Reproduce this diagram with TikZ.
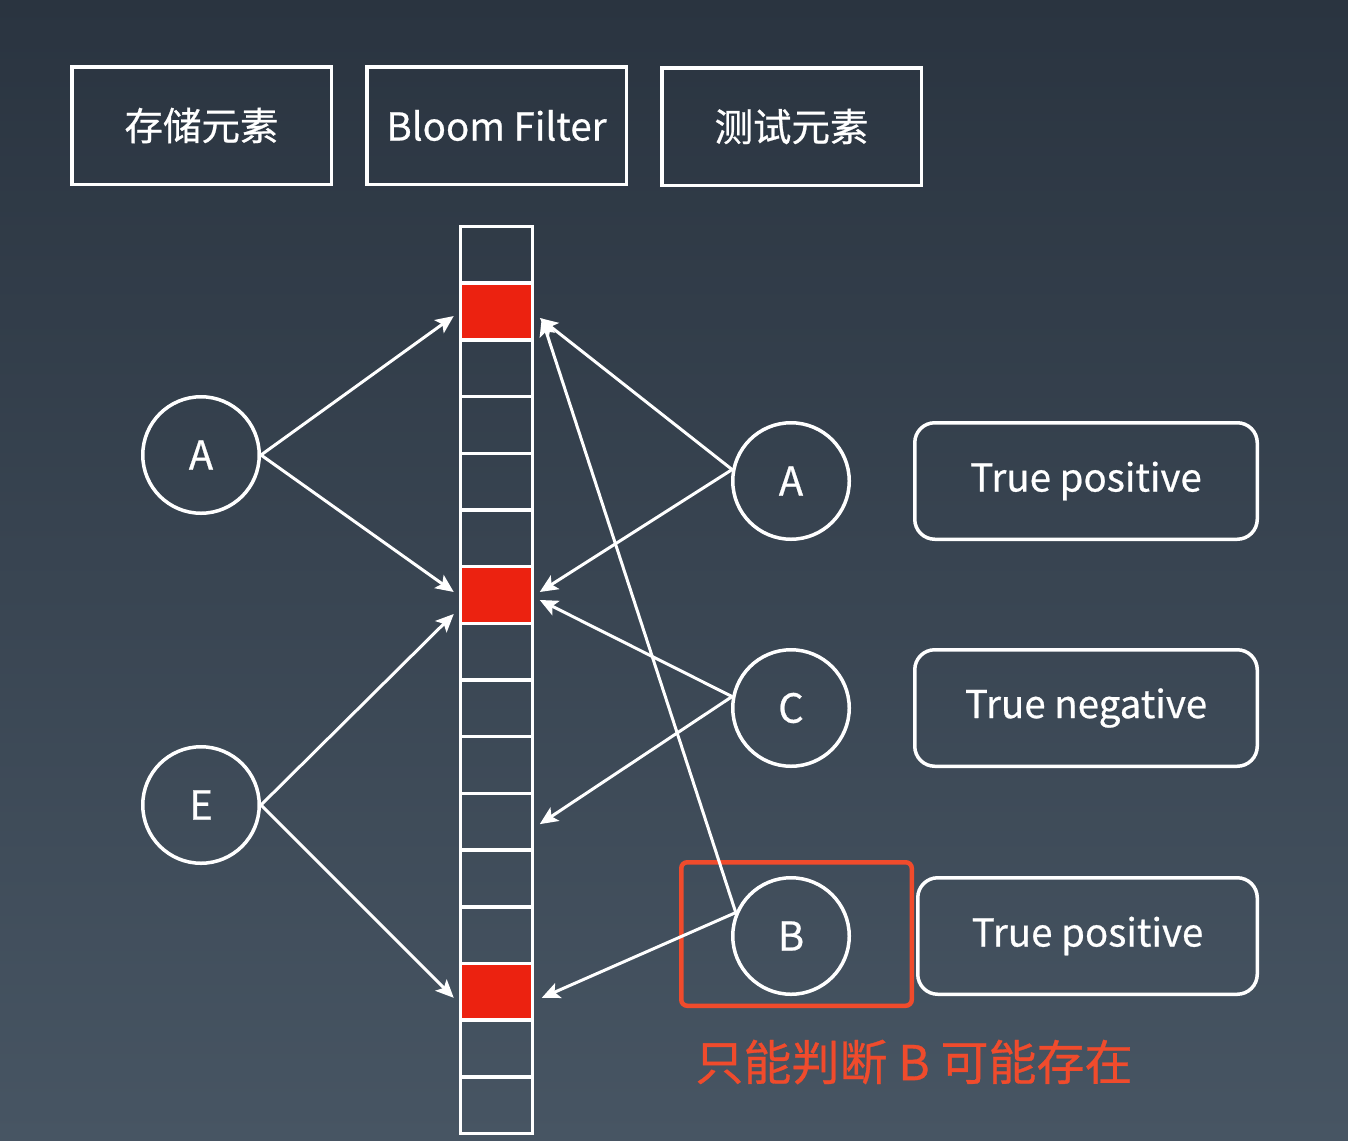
\documentclass[tikz,border=0pt]{standalone}
\usepackage{fontspec}
\newfontfamily\cjk[FakeBold=0.6]{Noto Sans CJK SC}
\usetikzlibrary{arrows.meta,calc}
\definecolor{bgtop}{HTML}{2A3440}
\definecolor{bgbot}{HTML}{475563}
\definecolor{cellred}{HTML}{EC2210}
\definecolor{hlred}{HTML}{F04B2C}
\begin{document}
\begin{tikzpicture}[x=1pt,y=-1pt,
  every node/.style={text=white},
  topbox/.style={draw=white, line width=3.5pt, minimum width=259.5pt, minimum height=117.5pt, inner sep=0pt, font=\cjk\fontsize{38.5}{40}\selectfont},
  cell/.style={draw=white, line width=3.5pt, minimum width=72pt, minimum height=56.69pt, inner sep=0pt},
  hot/.style={cell, fill=cellred},
  elem/.style={circle, draw=white, line width=3.5pt, minimum size=116.5pt, inner sep=0pt, font=\cjk\fontsize{40}{44}\selectfont},
  result/.style={draw=white, line width=3.5pt, rounded corners=20pt, minimum width=342.5pt, minimum height=116.5pt, inner sep=0pt, font=\cjk\fontsize{38.5}{44}\selectfont},
  link/.style={draw=white, line width=3pt, -{Stealth[length=18pt,width=16pt,inset=4pt]}},
  mark box/.style={draw=hlred, line width=4.5pt, rounded corners=6pt, minimum width=230.5pt, minimum height=143.5pt, inner sep=0pt},
  note/.style={text=hlred, font=\cjk\fontsize{48}{52}\selectfont, inner sep=0pt}
]
\fill[top color=bgtop, bottom color=bgbot] (0,0) rectangle (1348,1140);
\useasboundingbox (0,0) rectangle (1348,1140);

\node[topbox] (store) at (201.5,125.5) {存储元素};
\node[topbox] (bf) at (496.5,125.5) {Bloom Filter};
\node[topbox] (test) at (791.5,126.5) {测试元素};

\foreach \i in {1,...,16}{
  \pgfmathsetmacro{\cy}{226.5+56.69*(\i-0.5)}
  \ifnum\i=2 \node[hot] (c\i) at (496.5,\cy) {};
  \else\ifnum\i=7 \node[hot] (c\i) at (496.5,\cy) {};
  \else\ifnum\i=14 \node[hot] (c\i) at (496.5,\cy) {};
  \else \node[cell] (c\i) at (496.5,\cy) {};
  \fi\fi\fi
}

\node[elem] (A1) at (201,455) {A};
\node[elem] (E) at (201,805) {E};
\node[elem] (A2) at (791,481) {A};
\node[elem] (C) at (791,708) {C};
\node[elem] (B) at (791,936) {B};

\node[result] (tp1) at (1086,481) {\raisebox{-4pt}{True positive}};
\node[result] (tn) at (1086,708) {\raisebox{-4pt}{True negative}};
\node[result, minimum width=339.5pt] (tp2) at (1087.5,936) {\raisebox{-4pt}{True positive}};

\node[mark box] (hl) at (796.5,934) {};
\node[note] (msg) at (914,1062) {只能判断 B 可能存在};

\draw[link] (A1.east) -- ($(c2.west)+(-5,4.5)$);
\draw[link] (A1.east) -- ($(c7.west)+(-5,-3)$);
\draw[link] (E.east) -- ($(c7.west)+(-5,19)$);
\draw[link] (E.east) -- ($(c14.west)+(-5,6)$);
\draw[link] (A2.169) -- ($(c2.east)+(5.5,6.5)$);
\draw[link] (A2.169) -- ($(c7.east)+(5.5,-3)$);
\draw[link] (C.169) -- ($(c7.east)+(5.5,5)$);
\draw[link] (C.169) -- ($(c11.east)+(5.5,2.4)$);
\draw[link] (B.157) -- ($(c2.east)+(7.5,6.5)$);
\draw[link] (B.157) -- ($(c14.east)+(7.5,6)$);
\end{tikzpicture}
\end{document}
